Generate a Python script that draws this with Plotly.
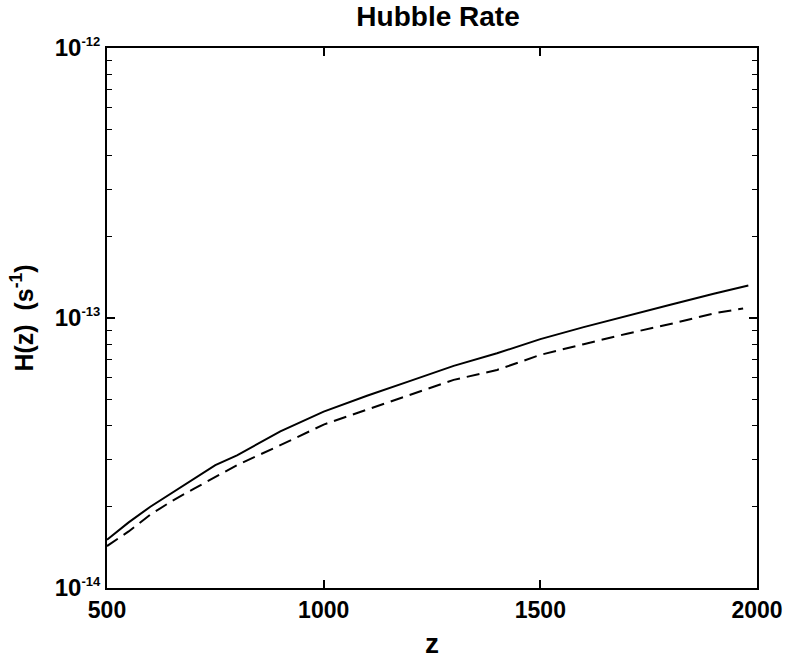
import plotly.graph_objects as go

# Solid curve
z_solid = [500, 550, 600, 650, 700, 750, 800, 900, 1000, 1100, 1200, 1300, 1400, 1500, 1600, 1700, 1800, 1900, 1980]
h_solid = [1.51e-14, 1.75e-14, 2.0e-14, 2.25e-14, 2.52e-14, 2.85e-14, 3.1e-14, 3.8e-14, 4.5e-14, 5.15e-14,
           5.85e-14, 6.65e-14, 7.4e-14, 8.35e-14, 9.25e-14, 1.02e-13, 1.12e-13, 1.23e-13, 1.32e-13]

# Dashed curve
z_dash = [500, 550, 600, 650, 700, 750, 800, 900, 1000, 1100, 1200, 1300, 1400, 1500, 1600, 1700, 1800, 1900, 1968]
h_dash = [1.43e-14, 1.62e-14, 1.87e-14, 2.1e-14, 2.33e-14, 2.58e-14, 2.85e-14, 3.38e-14, 4.03e-14, 4.58e-14,
          5.2e-14, 5.9e-14, 6.42e-14, 7.3e-14, 8.0e-14, 8.75e-14, 9.5e-14, 10.4e-14, 10.85e-14]

x_ticks = [500, 1000, 1500, 2000]
y_ticks = [1e-14, 1e-13, 1e-12]
y_exponents = ["-14", "-13", "-12"]
y_tick_text = ["10<sup><span style='font-size:13px'>%s</span></sup>" % e for e in y_exponents]

FONT = "Arial"

fig = go.Figure()
fig.add_trace(go.Scatter(x=z_solid, y=h_solid, mode="lines",
                         line=dict(color="black", width=2), showlegend=False))
fig.add_trace(go.Scatter(x=z_dash, y=h_dash, mode="lines",
                         line=dict(color="black", width=2, dash="13px,7px"), showlegend=False))

fig.update_layout(
    width=795, height=666,
    margin=dict(l=107, r=26, t=48, b=72),
    paper_bgcolor="white", plot_bgcolor="white",
    font=dict(family=FONT, color="black"),
    title=dict(text="Hubble Rate", x=0.551, xanchor="center", y=1 - 16 / 666, yanchor="middle",
               yref="container", font=dict(family=FONT, size=28, weight="bold", color="black")),
)

fig.update_xaxes(
    range=[500, 2000], tickvals=x_ticks, ticktext=[str(v) for v in x_ticks],
    ticks="inside", ticklen=8, tickwidth=1.5, tickcolor="black",
    showline=True, linecolor="black", linewidth=2, mirror="ticks",
    showgrid=False, zeroline=False,
    tickfont=dict(family=FONT, size=23, weight="bold", color="black"),
    title=dict(text="z", standoff=12, font=dict(family=FONT, size=28, weight="bold", color="black")),
)

fig.update_yaxes(
    type="log", range=[-14, -12], tickvals=y_ticks, ticktext=y_tick_text,
    ticks="inside", ticklen=8, tickwidth=1.5, tickcolor="black",
    minor=dict(ticks="inside", ticklen=5, tickwidth=1.2, tickcolor="black", dtick="D1", showgrid=False),
    showline=True, linecolor="black", linewidth=2, mirror="ticks",
    showgrid=False, zeroline=False,
    tickfont=dict(family=FONT, size=24, weight="bold", color="black"),
    title=dict(text="H(z)  (s<sup>-1</sup>)", standoff=14,
               font=dict(family=FONT, size=25, weight="bold", color="black")),
)

fig.write_html("out.html")
